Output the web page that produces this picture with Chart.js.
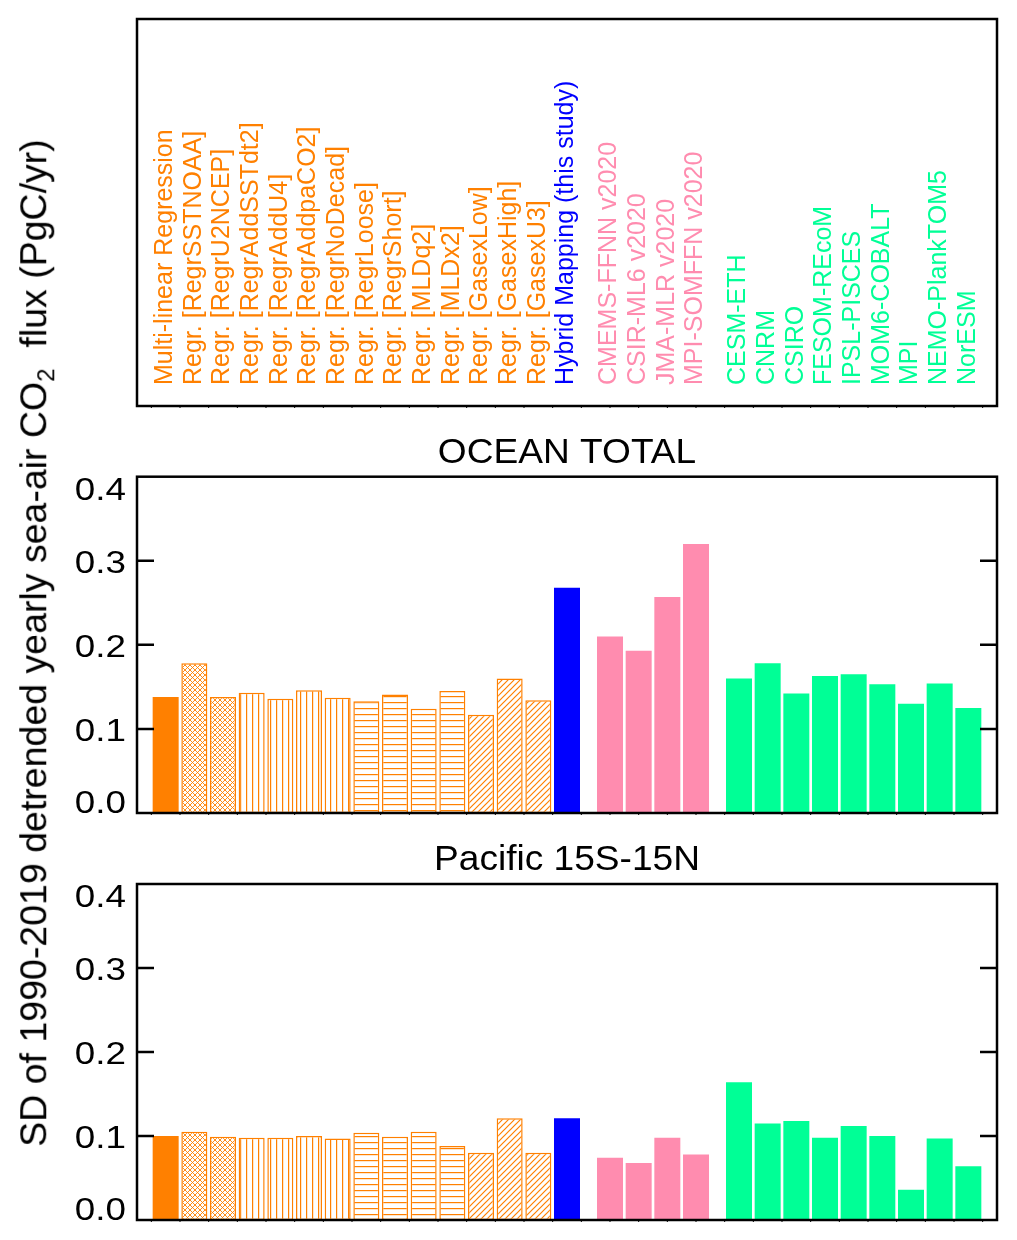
<!DOCTYPE html>
<html>
<head>
<meta charset="utf-8">
<script src="https://cdn.jsdelivr.net/npm/chart.js@4.4.0/dist/chart.umd.min.js"></script>
<style>
  body { margin: 0; background: #fff; }
  #fig { position: relative; width: 1017px; height: 1240px; background: #fff; font-family: "Liberation Sans", Arial, sans-serif; }
  #fig canvas { position: absolute; left: 0; }
  #ytitle { position: absolute; left: 33.7px; top: 642.5px; transform: translate(-50%, -50%) rotate(-90deg);
            white-space: nowrap; font-size: 37.5px; line-height: 37.5px; color: #000; }
  #ytitle .sub { font-size: 24px; line-height: 0; position: relative; top: 8px; }
</style>
</head>
<body>
<div id="fig">
  <canvas id="labels" width="1017" height="420" style="top:0"></canvas>
  <canvas id="ocean" width="1017" height="410" style="top:420px"></canvas>
  <canvas id="pacific" width="1017" height="410" style="top:830px"></canvas>
  <div id="ytitle">SD of 1990-2019 detrended yearly sea-air CO<span class="sub">2</span>&nbsp; flux (PgC/yr)</div>
</div>
<script>
const models = [
  'Multi-linear Regression', 'Regr. [RegrSSTNOAA]', 'Regr. [RegrU2NCEP]', 'Regr. [RegrAddSSTdt2]',
  'Regr. [RegrAddU4]', 'Regr. [RegrAddpaCO2]', 'Regr. [RegrNoDecad]', 'Regr. [RegrLoose]',
  'Regr. [RegrShort]', 'Regr. [MLDq2]', 'Regr. [MLDx2]', 'Regr. [GasexLow]',
  'Regr. [GasexHigh]', 'Regr. [GasexU3]', 'Hybrid Mapping (this study)',
  'CMEMS-FFNN v2020', 'CSIR-ML6 v2020', 'JMA-MLR v2020', 'MPI-SOMFFN v2020',
  'CESM-ETH', 'CNRM', 'CSIRO', 'FESOM-REcoM', 'IPSL-PISCES', 'MOM6-COBALT', 'MPI', 'NEMO-PlankTOM5', 'NorESM'
];
const groups = [
  'regr', 'regr', 'regr', 'regr', 'regr', 'regr', 'regr', 'regr', 'regr', 'regr', 'regr', 'regr', 'regr', 'regr',
  'hybrid',
  'product', 'product', 'product', 'product',
  'gobm', 'gobm', 'gobm', 'gobm', 'gobm', 'gobm', 'gobm', 'gobm', 'gobm'
];
const hatches = [
  'solid', 'cross', 'cross', 'vert', 'vert', 'vert', 'vert', 'horiz', 'horiz', 'horiz', 'horiz', 'diag', 'diag', 'diag',
  'solid', 'solid', 'solid', 'solid', 'solid', 'solid', 'solid', 'solid', 'solid', 'solid', 'solid', 'solid', 'solid', 'solid'
];
const oceanTotal = [
  0.138, 0.178, 0.138, 0.143, 0.136, 0.146, 0.137, 0.133, 0.141, 0.124, 0.145, 0.117, 0.160, 0.134,
  0.268,
  0.210, 0.193, 0.257, 0.320,
  0.160, 0.178, 0.142, 0.163, 0.165, 0.153, 0.130, 0.154, 0.125
];
const pacific = [
  0.100, 0.105, 0.099, 0.098, 0.098, 0.100, 0.097, 0.104, 0.099, 0.105, 0.088, 0.080, 0.121, 0.080,
  0.121,
  0.074, 0.068, 0.098, 0.078,
  0.164, 0.115, 0.118, 0.098, 0.112, 0.100, 0.036, 0.097, 0.064
];
const yTicks = [0, 0.1, 0.2, 0.3, 0.4];

const groupColor = { regr: '#FF8000', hybrid: '#0000FF', product: '#FF8CAF', gobm: '#00FF96' };
const FONT = '"Liberation Sans", Arial, sans-serif';

// bar slots: half-slot gap before the pCO2 products and before the models
const positions = [];
let slot = 0;
groups.forEach((g, i) => {
  if (i > 0 && g !== groups[i - 1] && (g === 'product' || g === 'gobm')) slot += 0.5;
  positions.push(slot);
  slot += 1;
});

function makeHatch(kind, color) {
  const s = kind === 'cross' ? 5 : 6;
  const c = document.createElement('canvas');
  c.width = s; c.height = s;
  const g = c.getContext('2d');
  g.fillStyle = '#fff';
  g.fillRect(0, 0, s, s);
  g.fillStyle = color;
  g.strokeStyle = color;
  g.lineWidth = kind === 'cross' ? 0.9 : 1.2;
  if (kind === 'vert') g.fillRect(0, 0, 1.2, s);
  if (kind === 'horiz') g.fillRect(0, 0, s, 1.2);
  if (kind === 'diag' || kind === 'cross') {
    g.beginPath();
    for (let k = -1; k <= 1; k++) { g.moveTo(k * s - 1, s + 1); g.lineTo(k * s + s + 1, -1); }
    if (kind === 'cross') {
      for (let k = -1; k <= 1; k++) { g.moveTo(k * s - 1, -1); g.lineTo(k * s + s + 1, s + 1); }
    }
    g.stroke();
  }
  return g.createPattern(c, 'repeat');
}

const fills = hatches.map((h, i) => h === 'solid' ? groupColor[groups[i]] : makeHatch(h, groupColor[groups[i]]));
const borders = groups.map(g => groupColor[g]);
const borderWidths = hatches.map(h => h === 'solid' ? 0 : 1.5);

function drawStretched(ctx, text, x, y, sx) {
  ctx.save();
  ctx.translate(x, y);
  ctx.scale(sx, 1);
  ctx.fillText(text, 0, 0);
  ctx.restore();
}

const framePlugin = {
  id: 'frame',
  afterDraw(chart, args, opts) {
    const { ctx, chartArea: a, scales: { x, y } } = chart;
    ctx.save();
    ctx.strokeStyle = '#000';
    ctx.lineWidth = 2.5;
    ctx.strokeRect(a.left, a.top, a.right - a.left, a.bottom - a.top);

    // small x ticks between bar slots
    ctx.lineWidth = 1;
    ctx.beginPath();
    for (let v = x.min + 0.5; v < x.max; v += 1) {
      const px = x.getPixelForValue(v);
      ctx.moveTo(px, a.bottom);
      ctx.lineTo(px, a.bottom + 2);
    }
    ctx.stroke();

    if (opts.title) {
      ctx.fillStyle = '#000';
      ctx.textAlign = 'center';
      ctx.textBaseline = 'alphabetic';
      ctx.font = '35px ' + FONT;
      drawStretched(ctx, opts.title, (a.left + a.right) / 2, a.top - 14, 1.06);
    }

    if (opts.yAxis) {
      ctx.lineWidth = 2.5;
      ctx.fillStyle = '#000';
      ctx.textAlign = 'right';
      ctx.textBaseline = 'alphabetic';
      ctx.font = '32px ' + FONT;
      const last = y.ticks.length - 1;
      y.ticks.forEach((t, i) => {
        const py = y.getPixelForValue(t.value);
        if (i > 0 && i < last) {
          ctx.beginPath();
          ctx.moveTo(a.left, py); ctx.lineTo(a.left + 17, py);
          ctx.moveTo(a.right, py); ctx.lineTo(a.right - 17, py);
          ctx.stroke();
        }
        const base = i === 0 ? py - 0.5 : (i === last ? py + 23 : py + 12);
        drawStretched(ctx, t.value.toFixed(1), a.left - 11, base, 1.15);
      });
    }
    ctx.restore();
  }
};

const nameLabels = {
  id: 'nameLabels',
  afterDraw(chart) {
    const { ctx, chartArea: a, scales: { x } } = chart;
    ctx.save();
    ctx.font = '25px ' + FONT;
    ctx.textAlign = 'left';
    ctx.textBaseline = 'alphabetic';
    models.forEach((name, i) => {
      ctx.save();
      ctx.translate(x.getPixelForValue(positions[i]) + 6.3, a.bottom - 21);
      ctx.rotate(-Math.PI / 2);
      ctx.fillStyle = groupColor[groups[i]];
      ctx.fillText(name, 0, 0);
      ctx.restore();
    });
    ctx.restore();
  }
};

const xScale = { type: 'linear', min: -1, max: 29, offset: false, grid: { offset: false }, display: false };
const yScale = { type: 'linear', min: 0, max: 0.4, ticks: { stepSize: 0.1 }, afterBuildTicks: s => { s.ticks = yTicks.map(v => ({ value: v })); }, display: false };

function panel(id, title, values, padTop, padBottom) {
  return new Chart(document.getElementById(id), {
    type: 'bar',
    data: {
      datasets: [{
        data: values.map((v, i) => ({ x: positions[i], y: v })),
        backgroundColor: fills,
        borderColor: borders,
        borderWidth: borderWidths,
        borderSkipped: false,
        categoryPercentage: 1,
        barPercentage: 0.907
      }]
    },
    options: {
      responsive: false,
      animation: false,
      layout: { padding: { left: 137, right: 20, top: padTop, bottom: padBottom } },
      scales: { x: xScale, y: yScale },
      plugins: {
        legend: { display: false },
        tooltip: { enabled: false },
        frame: { title: title, yAxis: true }
      }
    },
    plugins: [framePlugin]
  });
}

new Chart(document.getElementById('labels'), {
  type: 'bar',
  data: { datasets: [] },
  options: {
    responsive: false,
    animation: false,
    layout: { padding: { left: 137, right: 20, top: 19, bottom: 14 } },
    scales: { x: xScale, y: { display: false, min: 0, max: 1 } },
    plugins: { legend: { display: false }, tooltip: { enabled: false }, frame: {} }
  },
  plugins: [framePlugin, nameLabels]
});

panel('ocean', 'OCEAN TOTAL', oceanTotal, 56.7, 17);
panel('pacific', 'Pacific 15S-15N', pacific, 54, 20);
</script>
</body>
</html>
